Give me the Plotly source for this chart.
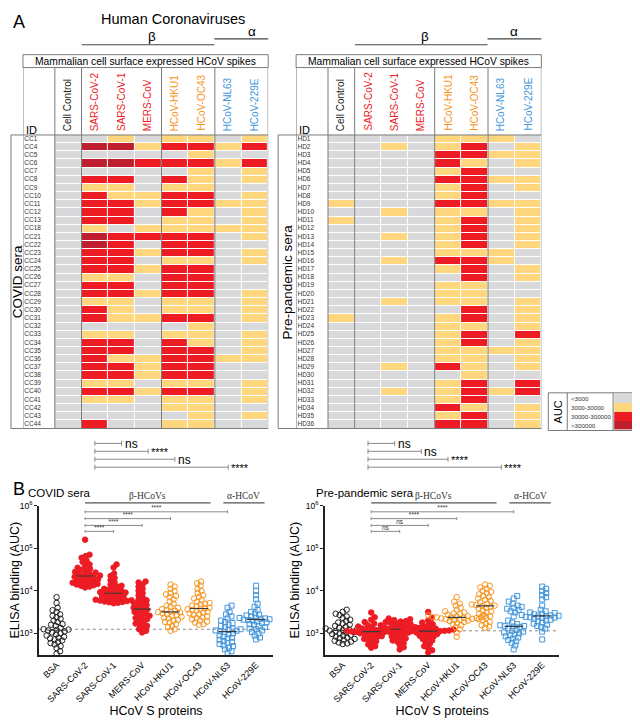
import numpy as np
import plotly.graph_objects as go

# ---------------- data ----------------
viruses = ['Cell Control', 'SARS-CoV-2', 'SARS-CoV-1', 'MERS-CoV',
           'HCoV-HKU1', 'HCoV-OC43', 'HCoV-NL63', 'HCoV-229E']
auc_bins = ['<3000', '3000-30000', '30000-300000', '>300000']

covid_ids = ['CC1', 'CC4', 'CC5', 'CC6', 'CC7', 'CC8', 'CC9', 'CC10', 'CC11', 'CC12',
             'CC13', 'CC18', 'CC21', 'CC22', 'CC23', 'CC24', 'CC25', 'CC26', 'CC27',
             'CC28', 'CC29', 'CC30', 'CC31', 'CC32', 'CC33', 'CC34', 'CC35', 'CC36',
             'CC37', 'CC38', 'CC39', 'CC40', 'CC41', 'CC42', 'CC43', 'CC44']
# 0: <3000, 1: 3000-30000, 2: 30000-300000, 3: >300000
covid_levels = [
    [0, 0, 1, 0, 1, 1, 0, 1], [0, 3, 3, 1, 2, 2, 1, 2], [0, 0, 0, 0, 0, 1, 0, 0],
    [0, 3, 3, 2, 2, 2, 1, 2], [0, 0, 0, 0, 0, 1, 0, 1], [0, 2, 2, 0, 2, 1, 0, 1],
    [0, 1, 1, 0, 1, 1, 0, 0], [0, 2, 1, 1, 2, 2, 0, 1], [0, 2, 2, 1, 2, 2, 1, 1],
    [0, 2, 2, 0, 2, 1, 0, 1], [0, 2, 2, 0, 1, 1, 0, 1], [0, 1, 0, 1, 1, 1, 1, 1],
    [0, 3, 2, 2, 2, 2, 0, 1], [0, 3, 2, 0, 2, 2, 0, 0], [0, 2, 2, 1, 2, 2, 0, 1],
    [0, 2, 2, 0, 1, 1, 0, 1], [0, 2, 2, 1, 2, 2, 0, 0], [0, 1, 1, 0, 2, 2, 0, 0],
    [0, 2, 2, 0, 2, 2, 0, 0], [0, 2, 2, 1, 2, 2, 0, 1], [0, 1, 1, 0, 1, 1, 0, 1],
    [0, 2, 1, 0, 1, 1, 0, 1], [0, 2, 1, 1, 2, 2, 0, 1], [0, 0, 0, 0, 0, 1, 0, 0],
    [0, 1, 1, 0, 1, 1, 0, 1], [0, 2, 2, 0, 2, 1, 0, 1], [0, 2, 2, 0, 2, 2, 0, 1],
    [0, 2, 1, 1, 2, 2, 1, 1], [0, 2, 2, 1, 2, 2, 0, 0], [0, 2, 2, 1, 2, 2, 0, 0],
    [0, 1, 1, 0, 1, 1, 0, 1], [0, 2, 2, 1, 2, 2, 0, 1], [0, 1, 1, 0, 1, 1, 0, 1],
    [0, 0, 0, 0, 1, 1, 0, 0], [0, 0, 0, 0, 0, 1, 0, 1], [0, 2, 0, 0, 1, 1, 0, 0],
]

hd_ids = ['HD%d' % i for i in range(1, 37)]
hd_levels = [
    [0, 0, 0, 0, 1, 1, 1, 0], [0, 0, 1, 0, 1, 2, 0, 1], [0, 0, 0, 0, 2, 2, 1, 1],
    [0, 0, 0, 0, 2, 1, 0, 1], [0, 0, 0, 0, 1, 2, 0, 0], [0, 0, 0, 0, 2, 2, 1, 1],
    [0, 0, 0, 0, 1, 2, 0, 1], [0, 0, 0, 0, 1, 2, 0, 0], [1, 0, 0, 0, 2, 2, 1, 1],
    [0, 0, 1, 0, 1, 1, 0, 1], [1, 0, 0, 0, 1, 2, 0, 1], [0, 0, 0, 0, 1, 2, 0, 1],
    [0, 0, 1, 0, 1, 2, 0, 1], [0, 0, 0, 0, 1, 2, 0, 1], [0, 0, 0, 0, 1, 1, 1, 0],
    [0, 0, 1, 0, 2, 2, 1, 0], [0, 0, 0, 0, 1, 2, 0, 1], [0, 0, 0, 0, 0, 2, 0, 1],
    [0, 0, 0, 0, 1, 1, 0, 0], [0, 0, 0, 0, 1, 1, 0, 0], [0, 0, 1, 0, 1, 1, 0, 1],
    [0, 0, 0, 0, 0, 2, 0, 1], [1, 0, 0, 0, 1, 2, 0, 1], [0, 0, 0, 0, 1, 1, 0, 1],
    [0, 0, 0, 0, 1, 2, 0, 2], [0, 0, 0, 0, 1, 2, 0, 1], [0, 0, 0, 0, 1, 1, 1, 1],
    [0, 0, 0, 0, 1, 1, 0, 1], [0, 0, 1, 0, 2, 1, 0, 1], [0, 0, 0, 0, 0, 1, 0, 0],
    [0, 0, 0, 0, 1, 2, 0, 2], [0, 0, 1, 0, 1, 2, 1, 2], [0, 0, 0, 0, 1, 2, 0, 0],
    [0, 0, 0, 0, 2, 1, 0, 1], [0, 0, 0, 0, 1, 2, 0, 1], [0, 0, 0, 0, 2, 2, 0, 1],
]

# significance under the heatmaps: SARS-CoV-2 vs S1, MERS, HKU1, NL63
heat_sig_covid = ['ns', '****', 'ns', '****']
heat_sig_hd = ['ns', 'ns', '****', '****']

# panel B: ELISA AUC per serum
proteins = ['BSA', 'SARS-CoV-2', 'SARS-CoV-1', 'MERS-CoV',
            'HCoV-HKU1', 'HCoV-OC43', 'HCoV-NL63', 'HCoV-229E']

bsa_covid = [7100, 5200, 4000, 3500, 3200, 2800, 2600, 2400, 2200, 2000, 1850, 1650,
             1600, 1500, 1350, 1250, 1230, 1200, 1170, 1120, 1050, 1000, 950, 890,
             830, 790, 760, 720, 680, 630, 590, 550, 500, 450, 380, 330]
s2_covid = [160000, 71000, 66000, 60000, 52000, 48000, 42000, 40000, 35000, 33000,
            31600, 30000, 28000, 27000, 25700, 25100, 24000, 22900, 21900, 21400,
            20900, 20000, 19000, 18600, 17800, 17400, 16600, 15800, 15500, 15100,
            14500, 14100, 13500, 13200, 12600, 12000]
s1_covid = [42000, 35500, 25700, 22400, 20000, 17800, 15800, 14100, 13200, 12600,
            11700, 11200, 10700, 10200, 9800, 9300, 9100, 8900, 8700, 8300, 7900,
            7600, 7400, 7100, 6900, 6600, 6300, 6200, 6000, 5900, 5750, 5600, 5500,
            5400, 5250, 5100]
mers_covid = [16600, 15800, 14100, 12600, 11200, 10000, 8900, 7900, 7100, 6300, 6000,
              5600, 5200, 5000, 4700, 4400, 4000, 3800, 3600, 3500, 3200, 2950, 2800,
              2600, 2500, 2300, 2150, 2000, 1850, 1700, 1600, 1500, 1350, 1250, 1150, 1050]
hku1_covid = [14100, 12600, 11200, 10000, 8900, 8300, 7600, 7100, 6300, 5600, 5000,
              4500, 4200, 4000, 3700, 3550, 3400, 3250, 3150, 3100, 2950, 2800, 2700,
              2550, 2450, 2350, 2250, 2100, 2000, 1850, 1800, 1650, 1500, 1400, 1250, 1150]
oc43_covid = [16600, 15100, 13200, 11200, 10000, 8900, 7900, 7200, 6600, 6000, 5600,
              5200, 5000, 4800, 4500, 4300, 4000, 3900, 3800, 3700, 3550, 3400, 3250,
              3100, 2950, 2800, 2700, 2500, 2400, 2300, 2150, 2000, 1900, 1800, 1650, 1600]
nl63_covid = [4500, 4000, 3200, 2800, 2500, 2250, 2000, 1850, 1750, 1600, 1500, 1400,
              1300, 1250, 1200, 1170, 1150, 1120, 1070, 1000, 950, 890, 830, 790, 760,
              710, 660, 630, 600, 560, 520, 500, 460, 420, 380, 350]
e229_covid = [13200, 10000, 7900, 6300, 5000, 4200, 3550, 3200, 2950, 2750, 2650, 2500,
              2400, 2350, 2300, 2250, 2200, 2150, 2100, 2050, 2000, 1900, 1800, 1750,
              1650, 1600, 1500, 1400, 1300, 1250, 1170, 1070, 1000, 890, 800, 720]

bsa_hd = [3600, 3200, 2900, 2700, 2500, 2300, 2100, 1950, 1800, 1700, 1600, 1500, 1420,
          1350, 1300, 1250, 1220, 1190, 1160, 1120, 1080, 1040, 1000, 960, 920, 880,
          840, 800, 770, 740, 700, 670, 640, 610, 580, 560]
s2_hd = [3100, 2400, 2100, 1850, 1700, 1550, 1450, 1400, 1350, 1300, 1250, 1200, 1180,
         1160, 1140, 1130, 1120, 1110, 1100, 1080, 1050, 1020, 1000, 970, 940, 900, 860,
         820, 780, 740, 700, 650, 600, 550, 500, 460]
s1_hd = [2240, 2150, 2050, 1950, 1900, 1850, 1800, 1700, 1650, 1600, 1550, 1500, 1450,
         1400, 1350, 1320, 1290, 1260, 1240, 1200, 1150, 1100, 1050, 1000, 950, 900, 850,
         800, 760, 720, 680, 640, 590, 530, 470, 420]
mers_hd = [3200, 2300, 2000, 1800, 1650, 1550, 1450, 1400, 1350, 1300, 1260, 1230, 1200,
           1180, 1170, 1160, 1150, 1140, 1130, 1100, 1070, 1040, 1000, 960, 920, 880,
           840, 790, 740, 680, 620, 560, 500, 450, 400, 355]
hku1_hd = [7100, 5600, 5000, 4500, 4000, 3600, 3300, 3100, 2950, 2850, 2750, 2650, 2600,
           2550, 2500, 2450, 2420, 2400, 2380, 2350, 2300, 2250, 2200, 2150, 2100, 2050,
           2000, 1950, 1850, 1750, 1650, 1550, 1400, 1250, 1050, 830]
oc43_hd = [14100, 13200, 12000, 11200, 10000, 9500, 8900, 8300, 7600, 7100, 6600, 6200,
           5800, 5400, 5000, 4800, 4600, 4500, 4400, 4200, 4000, 3800, 3500, 3300, 3100,
           2900, 2700, 2500, 2300, 2150, 2000, 1850, 1700, 1550, 1450, 1350]
nl63_hd = [7600, 6600, 5600, 5000, 4500, 4200, 4000, 3800, 3550, 3300, 3100, 2500, 2000,
           1800, 1650, 1550, 1500, 1480, 1450, 1400, 1300, 1200, 1150, 1100, 1050, 1000,
           950, 900, 850, 800, 750, 700, 650, 600, 520, 420]
e229_hd = [12600, 11200, 10000, 8900, 7900, 7100, 6300, 4500, 3600, 3300, 3100, 3000,
           2900, 2800, 2750, 2700, 2650, 2600, 2550, 2500, 2450, 2400, 2350, 2300, 2200,
           2100, 2000, 1900, 1800, 1700, 1600, 1500, 1400, 1300, 1100, 720]

covid_groups = [bsa_covid, s2_covid, s1_covid, mers_covid, hku1_covid, oc43_covid, nl63_covid, e229_covid]
hd_groups = [bsa_hd, s2_hd, s1_hd, mers_hd, hku1_hd, oc43_hd, nl63_hd, e229_hd]
cutoff_covid = 1250
cutoff_hd = 1150
elisa_sig_covid = ['****', '****', '****', '****']
elisa_sig_hd = ['****', '****', 'ns', 'ns']

# ---------------- styles ----------------
W, H = 640, 720
OFFX, OFFY = 8, 11   # where the page puts the figure
FONT = 'Liberation Sans, Arial, sans-serif'
GRAY, YEL, RED, DRED = '#d9d9db', '#fed67e', '#ed1c24', '#be1e2d'
ORANGE, BLUE = '#f7941d', '#4496dc'
LINE = '#7a7a7a'
label_colors = ['#231f20', RED, RED, RED, ORANGE, ORANGE, BLUE, BLUE]
cs = [[0, GRAY], [1/6, GRAY], [1/6, YEL], [0.5, YEL], [0.5, RED], [5/6, RED], [5/6, DRED], [1, DRED]]


def px(x):
    return (x - OFFX) / W


def py(y):
    return 1 - (y - OFFY) / H


def names(k):
    if k == 1:
        return 'x', 'y', 'xaxis', 'yaxis'
    return 'x%d' % k, 'y%d' % k, 'xaxis%d' % k, 'yaxis%d' % k


fig = go.Figure()
shapes = []
annotations = []
axes = {}


def hline(x0, x1, y, xref='paper', color=LINE, width=1):
    shapes.append(dict(type='line', xref=xref, yref='paper', x0=x0, x1=x1, y0=py(y), y1=py(y),
                       line=dict(color=color, width=width)))


def vline(x, y0, y1, xref='paper', color=LINE, width=1):
    shapes.append(dict(type='line', xref=xref, yref='paper', x0=x, x1=x, y0=py(y0), y1=py(y1),
                       line=dict(color=color, width=width)))


def text(x, y, s, size, xref='paper', xanchor='center', yanchor='middle', angle=0, color='black', family=FONT):
    annotations.append(dict(x=x, y=y, xref=xref, yref='paper', text=s, showarrow=False,
                            xanchor=xanchor, yanchor=yanchor, textangle=angle,
                            font=dict(family=family, size=size, color=color)))


# ---------------- panel A: heatmaps ----------------
def heat_panel(k, z, ids, outer, id_left, cell_left, right, sera, sig):
    xa, ya, xname, yname = names(k)
    cw = (right - cell_left) / 8
    x_lo = -0.5 - (cell_left - id_left) / cw
    fig.add_trace(go.Heatmap(z=z, x=list(range(8)), y=list(range(len(ids))), zmin=0, zmax=3,
                             colorscale=cs, showscale=False, xgap=1, ygap=1,
                             xaxis=xa, yaxis=ya, hoverinfo='skip'))
    fig.add_trace(go.Scatter(x=[x_lo + 0.05] * len(ids), y=list(range(len(ids))), mode='text',
                             text=ids, textposition='middle right', cliponaxis=False,
                             textfont=dict(family=FONT, size=6.5, color='#333'),
                             xaxis=xa, yaxis=ya, hoverinfo='skip', showlegend=False))
    axes[xname] = dict(domain=[px(id_left), px(right)], range=[x_lo, 7.5], visible=False,
                       fixedrange=True, anchor=ya)
    axes[yname] = dict(domain=[py(429), py(133)], range=[len(ids) - 0.5, -0.5], visible=False,
                       fixedrange=True, anchor=xa)
    # header box and grid lines
    shapes.append(dict(type='rect', xref='paper', yref='paper', x0=px(id_left), x1=px(right),
                       y0=py(65), y1=py(52), line=dict(color=LINE, width=1)))
    text(px((id_left + right) / 2), py(58.5), 'Mammalian cell surface expressed HCoV spikes', 10.3)
    for xb in [x_lo, -0.5, 0.5, 3.5, 5.5, 7.5]:
        vline(xb, 65, 429, xref=xa)
    vline(px(outer), 133, 429)
    hline(px(outer), px(right), 133)
    hline(px(outer), px(right), 429)
    for i, v in enumerate(viruses):
        annotations.append(dict(x=i, y=py(131), xref=xa, yref='paper', text=v, showarrow=False,
                                textangle=-90, xanchor='center', yanchor='bottom',
                                font=dict(family=FONT, size=10, color=label_colors[i])))
    text(px(id_left + 1), py(128), 'ID', 11, xanchor='left')
    text(px((outer + id_left) / 2 + 0.5), py(281), sera, 13.5, angle=-90)
    # brackets vs SARS-CoV-2
    for (end, lab, yb) in zip([2, 3, 4, 6], sig, [444, 452, 460, 468]):
        hline(1, end, yb, xref=xa, color='#8a8a8a')
        vline(1, yb - 2.5, yb + 2.5, xref=xa, color='#8a8a8a')
        vline(end, yb - 2.5, yb + 2.5, xref=xa, color='#8a8a8a')
        annotations.append(dict(x=end, y=py(yb + 0.5), xref=xa, yref='paper', text=lab, showarrow=False,
                                xanchor='left', yanchor='middle', xshift=1,
                                font=dict(family=FONT, size=12 if lab == 'ns' else 11, color='black')))


heat_panel(1, covid_levels, covid_ids, 9, 21, 53, 267, 'COVID sera', heat_sig_covid)
heat_panel(2, hd_levels, hd_ids, 277, 295, 327, 541, 'Pre-pandemic sera', heat_sig_hd)

# genus lines above the heatmaps
for off, a_x in [(0, 251), (274, 514)]:
    hline(px(80 + off), px(213 + off), 42, color='#444', width=1.2)
    hline(px(213 + off), px(267 + off), 36, color='#444', width=1.2)
    text(px(150 + off), py(33.5), 'β', 13.5)
    text(px(a_x), py(29), 'α', 13.5)
text(px(172), py(16), 'Human Coronaviruses', 14.5)
text(px(9), py(19), 'A', 18, xanchor='left')

# AUC legend
fig.add_trace(go.Heatmap(z=[[0], [1], [2], [3]], x=[0], y=[0, 1, 2, 3], zmin=0, zmax=3, colorscale=cs,
                         showscale=False, ygap=0, xaxis='x3', yaxis='y3', hoverinfo='skip'))
axes['xaxis3'] = dict(domain=[px(614), px(637)], range=[-0.5, 0.5], visible=False, anchor='y3')
axes['yaxis3'] = dict(domain=[py(430), py(394)], range=[3.5, -0.5], visible=False, anchor='x3')
shapes.append(dict(type='rect', xref='paper', yref='paper', x0=px(548), x1=px(638), y0=py(431),
                   y1=py(393), line=dict(color=LINE, width=1)))
vline(px(567), 393, 431)
vline(px(613), 393, 431)
text(px(557.5), py(412), 'AUC', 11, angle=-90)
for i, lab in enumerate(auc_bins):
    text(px(569), py(398.5 + 9 * i), lab, 6.2, xanchor='left', color='#333')

# ---------------- panel B: ELISA ----------------
PPD = 150 / 3.5      # px per decade
PPC = 235 / 8.22     # px per category
styles = [('circle-open', '#231f20'), ('circle', RED), ('circle', RED), ('circle', RED),
          ('circle-open', ORANGE), ('circle-open', ORANGE), ('square-open', BLUE), ('square-open', BLUE)]


def swarm(vals, d=4.2):
    yy = np.log10(vals) * PPD
    steps = [0.0]
    for s in np.arange(0.5, 40, 0.5):
        steps += [s, -s]
    placed = []
    xs = np.zeros(len(vals))
    for i in np.argsort(yy):
        for off in steps:
            if all((off - a) ** 2 + (yy[i] - b) ** 2 >= d * d for a, b in placed):
                break
        xs[i] = off
        placed.append((off, yy[i]))
    return xs / PPC


def elisa_panel(k, groups, cutoff, sig, left, title, title_x):
    xa, ya, xname, yname = names(k)
    xr = [-0.62, 7.6]
    fig.add_trace(go.Scatter(x=xr, y=[cutoff, cutoff], mode='lines', xaxis=xa, yaxis=ya,
                             line=dict(color='#8c8c8c', width=1, dash='dot'), hoverinfo='skip'))
    for i, vals in enumerate(groups):
        sym, col = styles[i]
        xs = i + swarm(vals)
        fig.add_trace(go.Scatter(x=xs, y=vals, mode='markers', xaxis=xa, yaxis=ya, cliponaxis=False,
                                 marker=dict(symbol=sym, color=col, size=5.5 if 'circle' in sym else 5,
                                             line=dict(color=col, width=1))))
        med = float(np.median(vals))
        fig.add_trace(go.Scatter(x=[i - 0.32, i + 0.32], y=[med, med], mode='lines', xaxis=xa, yaxis=ya,
                                 line=dict(color='#3a3a3a', width=1.2), hoverinfo='skip'))
    # comparison brackets vs SARS-CoV-2
    bx, by, tx, ty = [], [], [], []
    for end, lab, lv in zip([6, 4, 3, 2], sig, [5.86, 5.70, 5.54, 5.40]):
        yv = 10 ** lv
        yt0, yt1 = 10 ** (lv - 0.035), 10 ** (lv + 0.035)
        bx += [1, end, None, 1, 1, None, end, end, None]
        by += [yv, yv, None, yt0, yt1, None, yt0, yt1, None]
        tx.append((1 + end) / 2)
        ty.append(yv)
    fig.add_trace(go.Scatter(x=bx, y=by, mode='lines', xaxis=xa, yaxis=ya,
                             line=dict(color='#8a8a8a', width=1), hoverinfo='skip'))
    fig.add_trace(go.Scatter(x=tx, y=ty, mode='text', text=sig, textposition='top center',
                             cliponaxis=False, xaxis=xa, yaxis=ya, hoverinfo='skip',
                             textfont=dict(family=FONT, size=6.5, color='#333')))
    axes[xname] = dict(domain=[px(left), px(left + 235)], range=xr, anchor=ya,
                       tickmode='array', tickvals=list(range(8)), ticktext=proteins, tickangle=-45,
                       tickfont=dict(family=FONT, size=9, color='black'),
                       showline=True, linecolor='#222', linewidth=1.5, ticks='',
                       showgrid=False, zeroline=False,
                       title=dict(text='HCoV S proteins', font=dict(family=FONT, size=12.5), standoff=3))
    axes[yname] = dict(domain=[py(657), py(507)], type='log', range=[2.5, 6.0], anchor=xa,
                       tickmode='array', tickvals=[1e3, 1e4, 1e5, 1e6],
                       ticktext=['10<sup>3</sup>', '10<sup>4</sup>', '10<sup>5</sup>', '10<sup>6</sup>'],
                       tickfont=dict(family=FONT, size=8.5, color='black'),
                       ticks='outside', ticklen=3, tickwidth=1, tickcolor='#222',
                       showline=True, linecolor='#222', linewidth=1.5, showgrid=False, zeroline=False,
                       title=dict(text='ELISA binding (AUC)', font=dict(family=FONT, size=12.5), standoff=3))
    # genus lines above the plot
    for x0, x1, lab in [(1.0, 5.4, 'β-HCoVs'), (5.85, 7.3, 'α-HCoV')]:
        hline(x0, x1, 504, xref=xa, color='#555', width=1.2)
        annotations.append(dict(x=(x0 + x1) / 2, y=py(497.5), xref=xa, yref='paper', text=lab,
                                showarrow=False, xanchor='center', yanchor='middle',
                                font=dict(family='Liberation Serif, Times New Roman, serif', size=9.5, color='#333')))
    text(px(title_x), py(494), title, 11.5, xanchor='left')


elisa_panel(4, covid_groups, cutoff_covid, elisa_sig_covid, 37, 'COVID sera', 24)
elisa_panel(5, hd_groups, cutoff_hd, elisa_sig_hd, 324, 'Pre-pandemic sera', 313)
text(px(9), py(490), 'B', 18, xanchor='left')

fig.update_layout(width=W, height=H, margin=dict(l=0, r=0, t=0, b=0),
                  paper_bgcolor='white', plot_bgcolor='rgba(0,0,0,0)', showlegend=False,
                  font=dict(family=FONT, color='black'),
                  shapes=shapes, annotations=annotations, **axes)

fig.write_html('out.html')
